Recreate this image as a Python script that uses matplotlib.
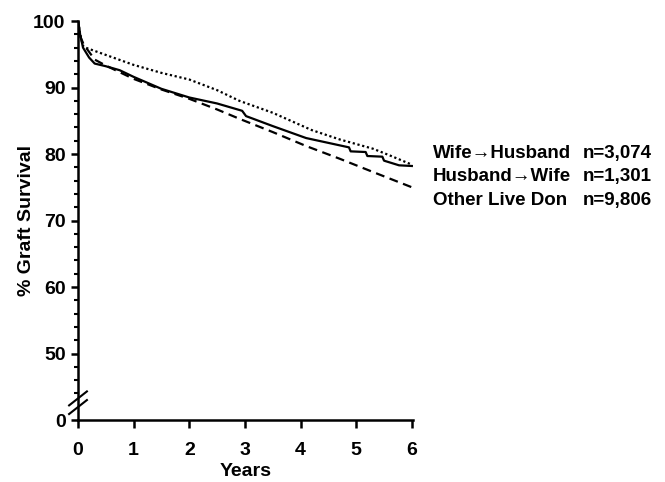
import matplotlib.pyplot as plt
import numpy as np

# Kaplan-Meier graft survival (years, %)
t_wh = [0, 0.04, 0.09, 0.2, 0.3, 0.5, 0.75, 1.0, 1.5, 2.0, 2.5, 2.95, 3.02, 3.5, 4.1, 4.87, 4.9, 5.17, 5.2, 5.47, 5.5, 5.77, 6.0]
s_wh = [100, 97.9, 96.0, 94.5, 93.6, 93.2, 92.6, 91.6, 89.8, 88.5, 87.6, 86.5, 85.7, 84.2, 82.4, 81.0, 80.4, 80.3, 79.7, 79.6, 79.0, 78.3, 78.2]

t_hw = [0, 0.05, 0.1, 0.5, 1.0, 1.5, 2.0, 2.5, 2.9, 3.5, 4.2, 4.7, 5.3, 5.6, 6.0]
s_hw = [100, 97.5, 96.1, 94.9, 93.4, 92.2, 91.2, 89.6, 88.0, 86.2, 83.6, 82.2, 80.8, 79.8, 78.4]

t_other = [0, 0.05, 0.1, 0.3, 0.5, 1.0, 1.5, 2.0, 2.5, 2.9, 3.5, 4.1, 4.7, 5.3, 6.0]
s_other = [100, 97.5, 96.5, 94.2, 93.3, 91.3, 89.7, 88.3, 86.7, 85.3, 83.3, 81.2, 79.3, 77.3, 75.0]

labels = ['Wife\u2192Husband', 'Husband\u2192Wife', 'Other Live Don']
counts = ['n=3,074', 'n=1,301', 'n=9,806']

y_ticks = [0, 50, 60, 70, 80, 90, 100]
x_ticks = [0, 1, 2, 3, 4, 5, 6]

# the axis is broken between 0 and ~45: real 0 is drawn at 40
ZERO_POS = 40

plt.rcParams['font.family'] = ['Liberation Sans', 'DejaVu Sans']
plt.rcParams['font.weight'] = 'bold'

fig = plt.figure(figsize=(6.65, 4.82), dpi=100)
ax = fig.add_axes([0.1173, 0.1286, 0.5037, 0.8278])

ax.plot(t_wh, s_wh, color='black', lw=1.6, ls='-')
ax.plot(t_hw, s_hw, color='black', lw=1.6, ls=(0, (1, 1.2)))
ax.plot(t_other, s_other, color='black', lw=1.6, ls=(0, (4, 2.5)))

ax.set_xlim(0, 6.02)
ax.set_ylim(ZERO_POS, 100)
ax.spines['top'].set_visible(False)
ax.spines['right'].set_visible(False)
ax.spines['left'].set_linewidth(1.8)
ax.spines['bottom'].set_linewidth(1.8)

pos = [ZERO_POS if v == 0 else v for v in y_ticks]
ax.set_yticks(pos)
ax.set_yticklabels([str(v) for v in y_ticks])
ax.set_yticks(np.arange(44, 100, 2), minor=True)
ax.set_xticks(x_ticks)
ax.set_xticklabels([str(v) for v in x_ticks])
ax.tick_params(axis='y', which='major', labelsize=14, width=1.8, length=5, pad=4)
ax.tick_params(axis='x', which='major', labelsize=14, width=1.8, length=6, pad=10)
ax.tick_params(axis='y', which='minor', width=1.5, length=3)

ax.set_xlabel('Years', fontsize=14, fontweight='bold', labelpad=3)
ax.set_ylabel('% Graft Survival', fontsize=14, fontweight='bold', labelpad=-1)

# break marks on the y axis
for dy in (0, 1.3):
    ax.plot([-0.16, 0.16], [40.9 + dy, 43.0 + dy], color='black', lw=1.5,
            clip_on=False, transform=ax.transData)

# legend text
for i, (lab, n) in enumerate(zip(labels, counts)):
    y = 0.682 - i * 0.0488
    fig.text(0.651, y, lab, fontsize=13.5, fontweight='bold', va='center')
    fig.text(0.877, y, n, fontsize=13.5, fontweight='bold', va='center')

fig.savefig('out.png', dpi=100)
